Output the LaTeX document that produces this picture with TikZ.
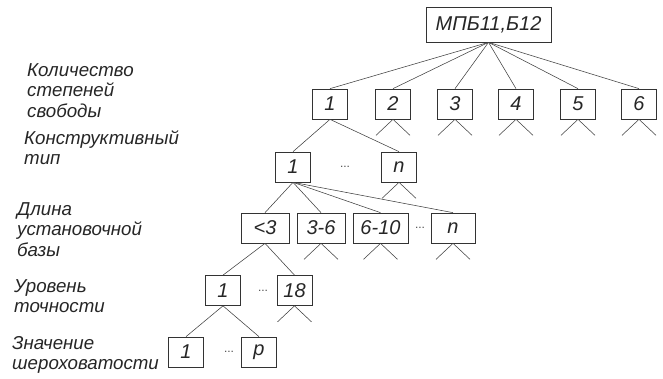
\documentclass[tikz,border=0pt]{standalone}
\usepackage{fontspec}
\setmainfont{Liberation Sans}
\begin{document}
\begin{tikzpicture}[
  x=1pt, y=-1pt,
  every node/.style={font=\fontsize{20}{24}\selectfont\itshape, text=black!85},
  box/.style={draw=black!80, line width=0.7pt, minimum width=35pt,
    minimum height=30pt, inner sep=0pt},
  lbl/.style={align=left, anchor=north west, inner sep=0pt,
    font=\fontsize{18.7}{20.5}\selectfont\itshape},
  dots/.style={font=\fontsize{12}{12}\selectfont, inner sep=0pt, text=black!70},
  edge/.style={draw=black!75, line width=0.55pt},
  tick/.style={draw=black!75, line width=0.55pt}
]
  \useasboundingbox (0,0) rectangle (663,379);

  % levels of the classification
  \node[lbl] (lbldof) at (27,63) {Количество\\степеней\\свободы};
  \node[lbl] (lbltype) at (24,130) {Конструктивный\\тип};
  \node[lbl] (lbllen) at (17,202) {Длина\\установочной\\базы};
  \node[lbl] (lblacc) at (14,279) {Уровень\\точности};
  \node[lbl] (lblrough) at (12,336) {Значение\\шероховатости};

  \node[box, minimum width=125pt, minimum height=35pt] (mpb) at (488.5,24.5) {МПБ11,Б12};

  \node[box] (dof1) at (330,104) {1};
  \node[box] (dof2) at (393,104) {2};
  \node[box] (dof3) at (455,104) {3};
  \node[box] (dof4) at (516,104) {4};
  \node[box] (dof5) at (578,104) {5};
  \node[box] (dof6) at (639,104) {6};

  \node[box] (type1) at (293,167) {1};
  \node[dots] (dotstype) at (345,167) {...};
  \node[box] (typen) at (399,167) {n};

  \node[box, minimum width=48pt] (len3) at (265,228) {<3};
  \node[box, minimum width=48pt] (len36) at (321,228) {3-6};
  \node[box, minimum width=55pt] (len610) at (380.5,228) {6-10};
  \node[dots] (dotslen) at (420,228) {...};
  \node[box, minimum width=44pt] (lenn) at (453,228) {n};

  \node[box] (acc1) at (223,290.5) {1};
  \node[dots] (dotsacc) at (263,290.5) {...};
  \node[box] (acc18) at (294.5,290.5) {18};

  \node[box] (rough1) at (186,352) {1};
  \node[dots] (dotsrough) at (229,352) {...};
  \node[box] (roughp) at (259,352) {p};

  \foreach \n in {dof1,dof2,dof3,dof4,dof5,dof6}
    \draw[edge] (mpb.south) -- (\n.north);
  \draw[edge] (dof1.south) -- (type1.north);
  \draw[edge] (dof1.south) -- (typen.north);
  \foreach \n in {len3,len36,len610,lenn}
    \draw[edge] (type1.south) -- (\n.north);
  \draw[edge] (len3.south) -- (acc1.north);
  \draw[edge] (len3.south) -- (acc18.north);
  \draw[edge] (acc1.south) -- (rough1.north);
  \draw[edge] (acc1.south) -- (roughp.north);

  % open branches
  \foreach \n in {dof2,dof3,dof4,dof5,dof6,typen,len36,len610,lenn,acc18}
    \draw[tick] ([xshift=-17pt,yshift=-16pt]\n.south) -- (\n.south)
      -- ([xshift=17pt,yshift=-16pt]\n.south);
\end{tikzpicture}
\end{document}
